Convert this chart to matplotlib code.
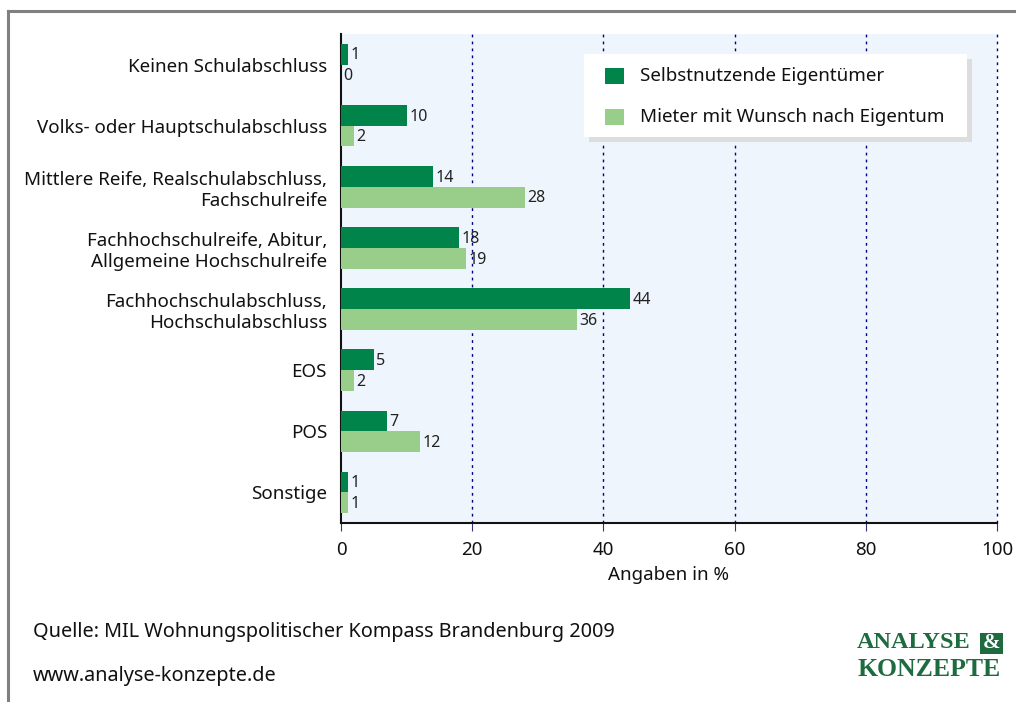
import matplotlib
matplotlib.use("Agg")
import matplotlib.pyplot as plt
from matplotlib.patches import Rectangle
from matplotlib.lines import Line2D
import numpy as np

categories = [
    "Keinen Schulabschluss",
    "Volks- oder Hauptschulabschluss",
    "Mittlere Reife, Realschulabschluss,\nFachschulreife",
    "Fachhochschulreife, Abitur,\nAllgemeine Hochschulreife",
    "Fachhochschulabschluss,\nHochschulabschluss",
    "EOS",
    "POS",
    "Sonstige",
]
eigentuemer = [1, 10, 14, 18, 44, 5, 7, 1]
mieter = [0, 2, 28, 19, 36, 2, 12, 1]
series_names = ["Selbstnutzende Eigentümer", "Mieter mit Wunsch nach Eigentum"]
xticks = [0, 20, 40, 60, 80, 100]

DARK = "#00844A"
LIGHT = "#99CE8A"
BG = "#EEF5FD"
FONT = ["Noto Sans", "DejaVu Sans"]
plt.rcParams['font.family'] = FONT
FS = 13.5

W, H = 1016, 702
fig = plt.figure(figsize=(W / 100, H / 100), dpi=100)

# outer border lines
fig.add_artist(Line2D([8 / W, 8 / W], [0, 1 - 11 / H], color="#808080", lw=2.2, transform=fig.transFigure))
fig.add_artist(Line2D([8 / W, 1], [1 - 11 / H, 1 - 11 / H], color="#808080", lw=2.2, transform=fig.transFigure))

x0, x1, y0, y1 = 341, 997, 34, 523
ax = fig.add_axes([x0 / W, 1 - y1 / H, (x1 - x0) / W, (y1 - y0) / H])
ax.set_facecolor(BG)

n = len(categories)
y = np.arange(n)
bh = 0.34
ax.barh(y - bh / 2, eigentuemer, height=bh, color=DARK, zorder=3)
ax.barh(y + bh / 2, mieter, height=bh, color=LIGHT, zorder=3)
for i in range(n):
    ax.text(eigentuemer[i] + 0.4, y[i] - bh / 2 + 0.02, str(eigentuemer[i]), va="center", ha="left",
            fontsize=11.5, color="#222222", zorder=4)
    ax.text(mieter[i] + 0.4, y[i] + bh / 2 + 0.02, str(mieter[i]), va="center", ha="left",
            fontsize=11.5, color="#222222", zorder=4)

ax.set_xlim(0, 100)
ax.set_ylim(n - 0.5, -0.5)
ax.set_yticks(y)
ax.set_yticklabels(categories, fontsize=FS, color="#111111", linespacing=1.2)
ax.tick_params(axis="y", length=0, pad=10)
ax.set_xticks(xticks)
ax.set_xticklabels([str(t) for t in xticks], fontsize=FS, color="#111111")
ax.tick_params(axis="x", length=6, direction="out", color="#333380", pad=7)
ax.set_xlabel("Angaben in %", fontsize=FS, color="#111111", labelpad=5)

for t in xticks[1:]:
    ax.axvline(t, color="#000080", lw=1.0, ls=(0, (2, 3)), zorder=1, clip_on=False)

for s in ["top", "right"]:
    ax.spines[s].set_visible(False)
ax.spines["left"].set_color("#111111")
ax.spines["bottom"].set_color("#111111")
ax.spines["left"].set_linewidth(1.5)
ax.spines["bottom"].set_linewidth(1.5)


def fx(px):
    return px / W


def fy(py):
    return 1 - py / H


# legend box with shadow
lx0, lx1, ly0, ly1 = 584, 967, 54, 137
fig.add_artist(Rectangle((fx(lx0 + 5), fy(ly1 + 5)), (lx1 - lx0) / W, (ly1 - ly0) / H,
                         transform=fig.transFigure, facecolor="#DDDDDD", edgecolor="none", zorder=5))
fig.add_artist(Rectangle((fx(lx0), fy(ly1)), (lx1 - lx0) / W, (ly1 - ly0) / H,
                         transform=fig.transFigure, facecolor="white", edgecolor="none", zorder=6))
for (py, col, name) in [(76, DARK, series_names[0]), (117, LIGHT, series_names[1])]:
    fig.add_artist(Rectangle((fx(605), fy(py + 8)), 19 / W, 16 / H, transform=fig.transFigure,
                             facecolor=col, edgecolor="none", zorder=7))
    fig.text(fx(640), fy(py), name, fontsize=FS, color="#111111", va="center", ha="left", zorder=7)

fig.text(fx(33), fy(632), "Quelle: MIL Wohnungspolitischer Kompass Brandenburg 2009",
         fontsize=14.3, color="#111111", va="center", ha="left")
fig.text(fx(33), fy(676), "www.analyse-konzepte.de", fontsize=14.3, color="#111111",
         va="center", ha="left")

# logo
LOGO = "#1F6B40"
fig.text(fx(857), fy(643), "ANALYSE", fontsize=17.5, fontweight="bold", family="Liberation Serif",
         color=LOGO, va="center", ha="left")
fig.add_artist(Rectangle((fx(980), fy(654)), 23 / W, 21 / H, transform=fig.transFigure,
                         facecolor=LOGO, edgecolor="none"))
fig.text(fx(991.5), fy(643), "&", fontsize=15, fontweight="bold", family="Liberation Serif",
         color="white", va="center", ha="center")
fig.text(fx(857), fy(670), "KONZEPTE", fontsize=18.5, fontweight="bold", family="Liberation Serif",
         color=LOGO, va="center", ha="left")

fig.savefig("out.png", dpi=100)
